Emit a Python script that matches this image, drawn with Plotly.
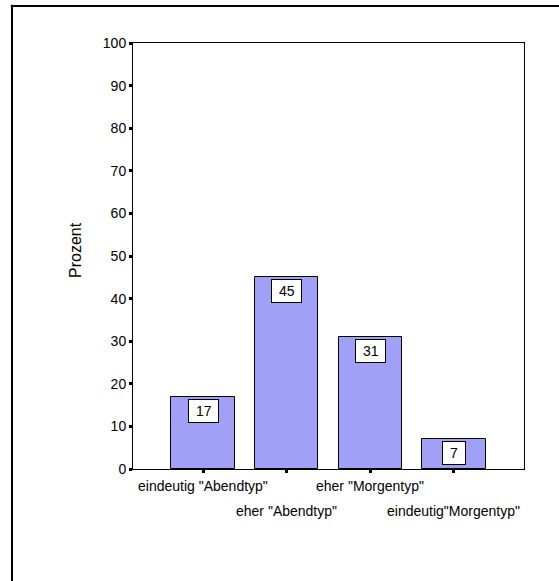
import plotly.graph_objects as go

# Chronotype distribution (percent of respondents)
categories = ['eindeutig "Abendtyp"', 'eher "Abendtyp"', 'eher "Morgentyp"', 'eindeutig"Morgentyp"']
percent = [17, 45, 31, 7]
y_ticks = [0, 10, 20, 30, 40, 50, 60, 70, 80, 90, 100]
y_title = "Prozent"

FONT = "Liberation Sans, Arial, sans-serif"
x_pos = list(range(len(categories)))

fig = go.Figure(
    go.Bar(
        x=x_pos,
        y=percent,
        width=0.76,
        marker=dict(color="#a0a0f7", line=dict(color="black", width=1)),
        hoverinfo="skip",
    )
)

annotations = []
# value boxes just under the top of each bar
for xp, v in zip(x_pos, percent):
    annotations.append(dict(
        x=xp, y=v, xref="x", yref="y",
        text="\u00a0" + str(v) + "\u00a0",
        showarrow=False, yanchor="top", yshift=-2,
        bgcolor="white", bordercolor="black", borderwidth=1, borderpad=3,
        font=dict(family=FONT, size=14, color="black"),
    ))
# category labels, staggered in two rows
for i, (xp, name) in enumerate(zip(x_pos, categories)):
    annotations.append(dict(
        x=xp, y=0, xref="x", yref="y",
        text=name, showarrow=False, yanchor="middle",
        yshift=-17 if i % 2 == 0 else -42,
        font=dict(family=FONT, size=14, color="black"),
    ))
# rotated y-axis title
annotations.append(dict(
    x=(75 - 133) / 391, y=(469 - 250) / 426, xref="paper", yref="paper",
    text=y_title, textangle=-90, showarrow=False,
    xanchor="center", yanchor="middle",
    font=dict(family=FONT, size=16, color="black"),
))

# page frame
fx0 = (12 - 133) / 391
fy0 = (469 - 6) / 426
shapes = [
    dict(type="line", xref="paper", yref="paper", x0=fx0, x1=fx0, y0=fy0 + 0.003, y1=-0.3,
         line=dict(color="black", width=2)),
    dict(type="line", xref="paper", yref="paper", x0=fx0 - 0.003, x1=1.2, y0=fy0, y1=fy0,
         line=dict(color="black", width=2)),
]

fig.update_layout(
    width=559, height=581, autosize=False,
    margin=dict(l=133, r=35, t=43, b=112, pad=0),
    paper_bgcolor="white", plot_bgcolor="white",
    showlegend=False,
    bargap=0,
    annotations=annotations,
    shapes=shapes,
    font=dict(family=FONT, color="black"),
    xaxis=dict(
        range=[-0.84, 3.84], tickvals=x_pos, showticklabels=False,
        ticks="outside", ticklen=3, tickwidth=3, tickcolor="black",
        showline=True, linecolor="black", linewidth=1, mirror=True,
        showgrid=False, zeroline=False, fixedrange=True,
    ),
    yaxis=dict(
        range=[0, 100], tickvals=y_ticks,
        ticks="outside", ticklen=3, tickwidth=3, tickcolor="black",
        tickfont=dict(family=FONT, size=14, color="black"),
        showline=True, linecolor="black", linewidth=1, mirror=True,
        showgrid=False, zeroline=False, fixedrange=True,
    ),
)

fig.write_html("out.html")
